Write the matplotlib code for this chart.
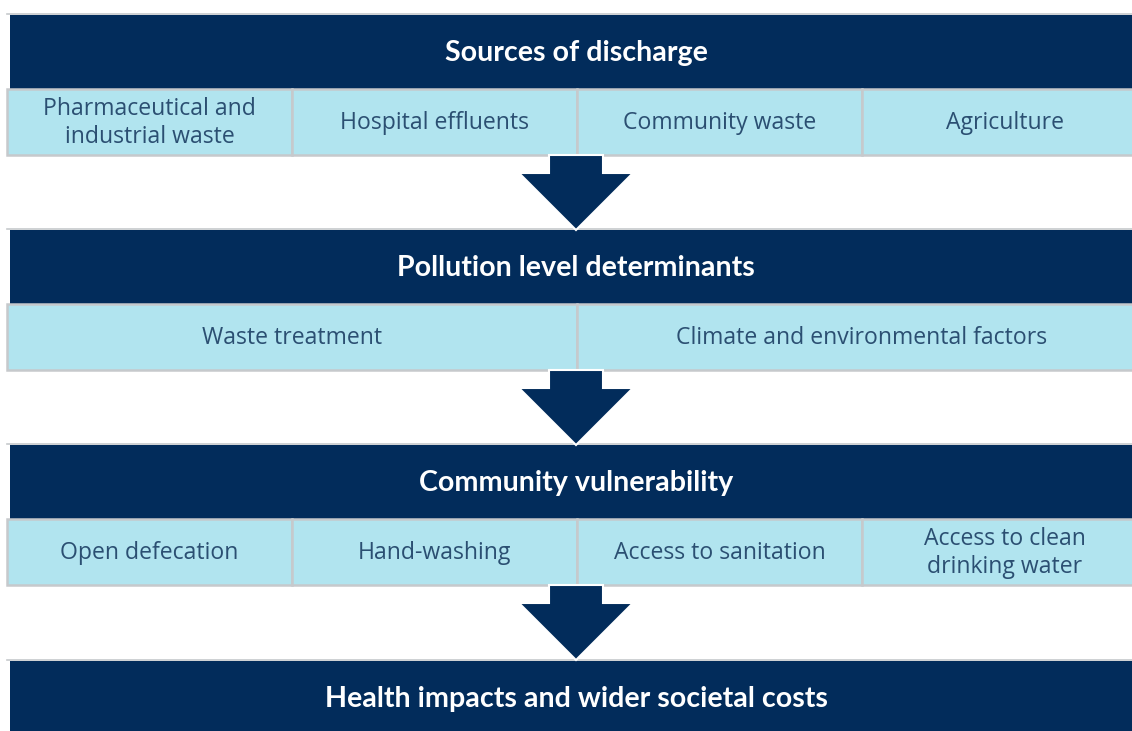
import matplotlib
matplotlib.use("Agg")
import matplotlib.pyplot as plt
from matplotlib.patches import Rectangle, Polygon

# ---- content ----
section_titles = [
    "Sources of discharge",
    "Pollution level determinants",
    "Community vulnerability",
    "Health impacts and wider societal costs",
]
sources_items = ["Pharmaceutical and\nindustrial waste", "Hospital effluents",
                 "Community waste", "Agriculture"]
determinant_items = ["Waste treatment", "Climate and environmental factors"]
vulnerability_items = ["Open defecation", "Hand-washing", "Access to sanitation",
                       "Access to clean\ndrinking water"]
section_items = [sources_items, determinant_items, vulnerability_items, []]

# ---- style ----
DARK = "#022c5b"
LIGHT = "#b1e4ef"
GRAY = "#c6c9cc"
CELL_TXT = "#2b4f72"

W, H = 1132, 731
fig = plt.figure(figsize=(W / 100, H / 100), dpi=100)
ax = fig.add_axes([0, 0, 1, 1])
ax.set_xlim(0, W)
ax.set_ylim(H, 0)
ax.axis("off")

header_tops = [15, 230, 445, 661]
header_h = 74
row_h = 66
x_left_dark = 10
x_left_row = 7
full_w = 1140
center_x = 576

for top, title, items in zip(header_tops, section_titles, section_items):
    # thin gray line above header
    ax.plot([x_left_row, W], [top - 1.5, top - 1.5], color=GRAY, lw=1.2, zorder=1)
    ax.add_patch(Rectangle((x_left_dark, top), full_w, header_h, facecolor=DARK,
                           edgecolor="none", zorder=2))
    ax.text(center_x, top + header_h / 2 + 1, title, color="white", fontsize=20.6,
            fontweight="bold", family="Lato", ha="center", va="center", zorder=5)
    if items:
        rtop = top + header_h
        n = len(items)
        cw = 1140 / n
        for i, it in enumerate(items):
            x0 = x_left_row + i * cw
            ax.add_patch(Rectangle((x0, rtop), cw, row_h, facecolor=LIGHT,
                                   edgecolor=GRAY, lw=1.8, zorder=3))
            ax.text(x0 + cw / 2, rtop + row_h / 2 + 1, it, color=CELL_TXT,
                    fontsize=16.6, family="Open Sans", ha="center", va="center",
                    linespacing=1.25, zorder=5)
        # arrow down to the next header
        a_top = rtop + row_h
        a_tip = top + 215
        head_start = a_top + 18
        sw, hw = 27, 57
        pts = [(center_x - sw, a_top), (center_x + sw, a_top),
               (center_x + sw, head_start), (center_x + hw, head_start),
               (center_x, a_tip), (center_x - hw, head_start),
               (center_x - sw, head_start)]
        ax.add_patch(Polygon(pts, closed=True, facecolor=DARK, edgecolor="white",
                             lw=1.5, zorder=4))

fig.savefig("out.png", dpi=100, facecolor="white")
